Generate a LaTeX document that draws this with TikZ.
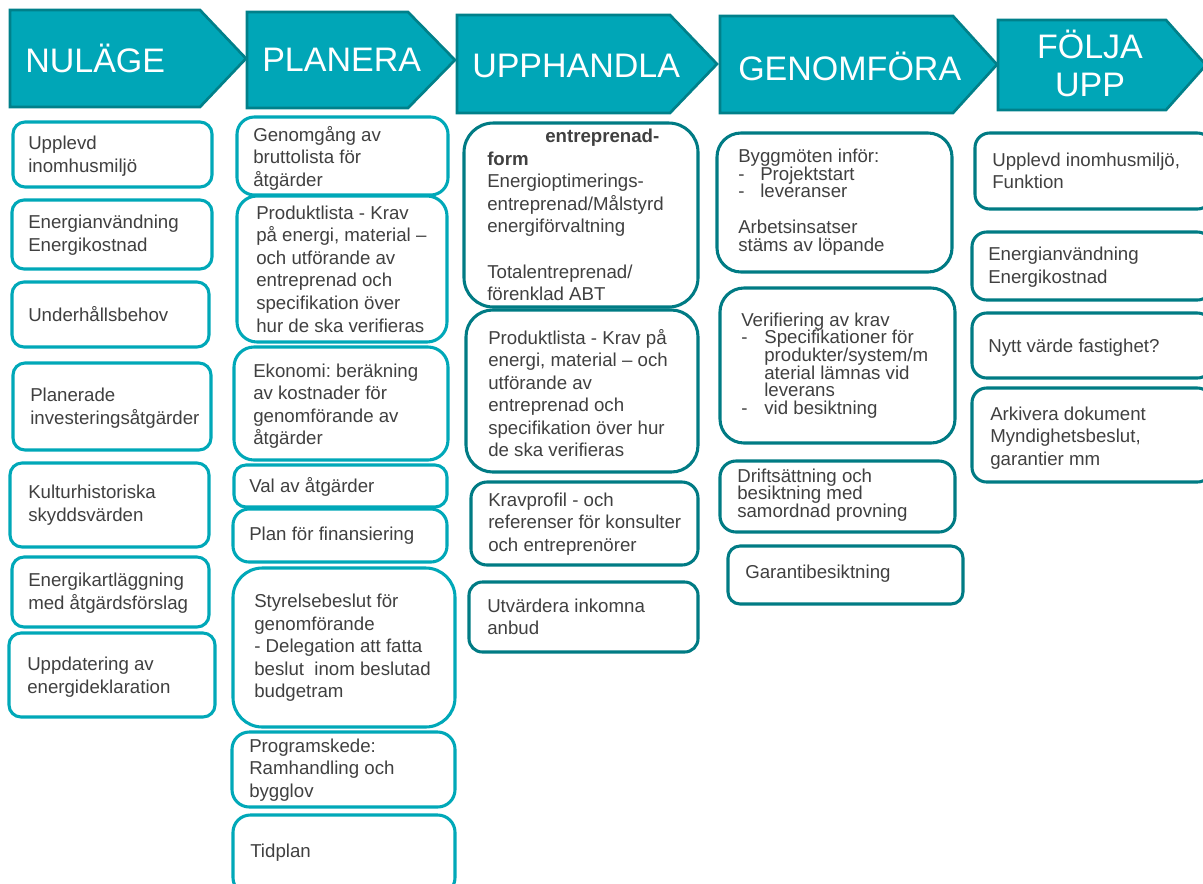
\documentclass[tikz,border=0pt]{standalone}
\usepackage{fontspec}
\setmainfont{Liberation Sans}
\definecolor{hfill}{HTML}{00A6B7}
\definecolor{hdraw}{HTML}{00808A}
\definecolor{lb}{HTML}{00A8B8}
\definecolor{db}{HTML}{007B84}
\definecolor{tx}{HTML}{404040}
\newcommand\bx[7]{\node[#6, rounded corners=#7, minimum width={(#4-#2)*0.75pt}, minimum height={(#5-#3)*0.75pt}] (#1) at ({(#2+#4)/2},{(#3+#5)/2}) {};}
\newcommand\chev[7]{\draw[hdr] (#2,#3) -- (#4,#3) -- (#5,#7) -- (#4,#6) -- (#2,#6) -- cycle; \coordinate (#1) at (#2,#7);}
\begin{document}
\frenchspacing
\begin{tikzpicture}[x=0.75pt,y=-0.75pt,
  hdr/.style={fill=hfill, draw=hdraw, line width=2pt, line join=miter},
  htxt/.style={text=white, font=\fontsize{25.5}{28.5}\selectfont, inner sep=0pt},
  lbox/.style={draw=lb, line width=2.3pt, fill=white, inner sep=0pt},
  dbox/.style={draw=db, line width=2.3pt, fill=white, inner sep=0pt},
  txt/.style={text=tx, font=\fontsize{14}{16.9}\selectfont\frenchspacing, align=left, inner sep=0pt, anchor=west},
  tight/.style={font=\fontsize{14}{13.3}\selectfont\frenchspacing}
]
\useasboundingbox (0,0) rectangle (1203,883);
\clip (0,0) rectangle (1203,883);

% headers
\chev{h1}{10}{10}{200}{246}{107}{58.5}
\chev{h2}{247}{12}{408}{455}{108}{60}
\chev{h3}{457}{15}{670}{717}{113}{64}
\chev{h4}{720}{16}{953}{997}{113}{64.5}
\chev{h5}{998}{20}{1166}{1206}{110}{65}
\node[htxt, anchor=west] (ht1) at (25,58) {NULÄGE};
\node[htxt, anchor=west] (ht2) at (262,60) {PLANERA};
\node[htxt, anchor=west] (ht3) at (472,66) {UPPHANDLA};
\node[htxt, anchor=west] (ht4) at (738,66) {GENOMFÖRA};
\node[htxt, align=center] (ht5) at (1090,63) {FÖLJA\\UPP};

% column 1
\bx{n1}{13}{122}{212}{187}{lbox}{9pt}
\bx{n2}{12}{200}{212}{269}{lbox}{9pt}
\bx{n3}{12}{282}{209}{347}{lbox}{9pt}
\bx{n4}{13}{363}{211}{450}{lbox}{9pt}
\bx{n5}{10}{463}{209}{547}{lbox}{9pt}
\bx{n6}{12}{557}{209}{627}{lbox}{9pt}
\bx{n7}{9}{633}{215}{717}{lbox}{9pt}
\node[txt] (tn1) at (28,156) {Upplevd\\inomhusmiljö};
\node[txt] (tn2) at (28,235) {Energianvändning\\Energikostnad};
\node[txt] (tn3) at (28,314) {Underhållsbehov};
\node[txt] (tn4) at (30,408) {Planerade\\investeringsåtgärder};
\node[txt] (tn5) at (28,505) {Kulturhistoriska\\skyddsvärden};
\node[txt] (tn6) at (28,593) {Energikartläggning\\med åtgärdsförslag};
\node[txt] (tn7) at (27,677) {Uppdatering av\\energideklaration};

% column 2
\bx{p1}{237}{117}{448}{195}{lbox}{13pt}
\bx{p2}{237}{196}{447}{342}{lbox}{15pt}
\bx{p3}{234}{347}{448}{460}{lbox}{15pt}
\bx{p4}{234}{465}{447}{507}{lbox}{9pt}
\bx{p5}{233}{509}{447}{562}{lbox}{12pt}
\bx{p6}{233}{568}{455}{727}{lbox}{22pt}
\bx{p7}{232}{732}{455}{807}{lbox}{13pt}
\bx{p8}{233}{815}{455}{895}{lbox}{13pt}
\node[txt] (tp1) at (253,158) {Genomgång av\\bruttolista för\\åtgärder};
\node[txt] (tp2) at (256,269) {Produktlista - Krav\\på energi, material –\\och utförande av\\entreprenad och\\specifikation över\\hur de ska verifieras};
\node[txt] (tp3) at (253,406) {Ekonomi: beräkning\\av kostnader för\\genomförande av\\åtgärder};
\node[txt] (tp4) at (249,487) {Val av åtgärder};
\node[txt] (tp5) at (249,536) {Plan för finansiering};
\node[txt] (tp6) at (254,648) {Styrelsebeslut för\\genomförande\\- Delegation att fatta\\beslut~ inom beslutad\\budgetram};
\node[txt] (tp7) at (249,770) {Programskede:\\Ramhandling och\\bygglov};
\node[txt] (tp8) at (250,853) {Tidplan};

% column 3
\bx{u1}{464}{123}{698}{307}{dbox}{22pt}
\bx{u2}{466}{310}{698}{472}{dbox}{20pt}
\bx{u3}{471}{482}{698}{565}{dbox}{12pt}
\bx{u4}{469}{582}{698}{652}{dbox}{10pt}
\node[txt] (tu1) at (487,215) {\hspace*{43.5pt}\textbf{entreprenad-}\\\textbf{form}\\Energioptimerings-\\entreprenad/Målstyrd\\energiförvaltning\\[16.9pt]Totalentreprenad/\\förenklad ABT};
\node[txt] (tu2) at (488,393) {Produktlista - Krav på\\energi, material – och\\utförande av\\entreprenad och\\specifikation över hur\\de ska verifieras};
\node[txt] (tu3) at (488,524) {Kravprofil - och\\referenser för konsulter\\och entreprenörer};
\node[txt] (tu4) at (487,617) {Utvärdera inkomna\\anbud};

% column 4
\bx{g1}{717}{133}{952}{272}{dbox}{18pt}
\bx{g2}{720}{288}{955}{443}{dbox}{18pt}
\bx{g3}{720}{461}{955}{532}{dbox}{12pt}
\bx{g4}{728}{546}{963}{604}{dbox}{9pt}
\node[txt, tight] (tg1) at (738,202) {Byggmöten inför:\\\makebox[16.5pt][l]{-}Projektstart\\\makebox[16.5pt][l]{-}leveranser\\[13.3pt]Arbetsinsatser\\stäms av löpande};
\node[txt, tight] (tg2) at (741,365.5) {Verifiering av krav\\\makebox[17.3pt][l]{-}Specifikationer för\\\hspace*{17.3pt}produkter/system/m\\\hspace*{17.3pt}aterial lämnas vid\\\hspace*{17.3pt}leverans\\\makebox[17.3pt][l]{-}vid besiktning};
\node[txt, tight] (tg3) at (737,495) {Driftsättning och\\besiktning med\\samordnad provning};
\node[txt] (tg4) at (745,574) {Garantibesiktning};

% column 5
\bx{f1}{975}{133}{1212}{209}{dbox}{11pt}
\bx{f2}{972}{232}{1212}{300}{dbox}{11pt}
\bx{f3}{972}{313}{1212}{378}{dbox}{11pt}
\bx{f4}{972}{388}{1212}{482}{dbox}{11pt}
\node[txt] (tf1) at (992,171) {Upplevd inomhusmiljö,\\Funktion};
\node[txt] (tf2) at (988,267) {Energianvändning\\Energikostnad};
\node[txt] (tf3) at (988,348) {Nytt värde fastighet?};
\node[txt] (tf4) at (990,438) {Arkivera dokument\\Myndighetsbeslut,\\garantier mm};
\end{tikzpicture}
\end{document}
